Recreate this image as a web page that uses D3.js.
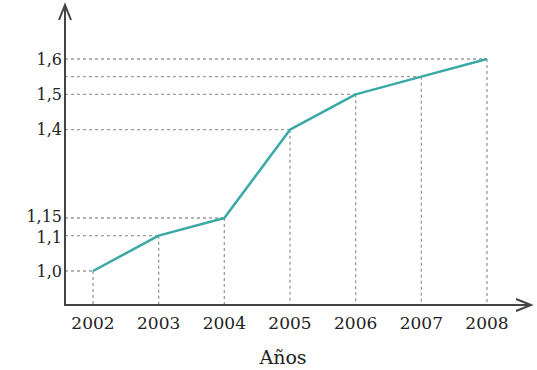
<!DOCTYPE html>
<html>
<head>
<meta charset="utf-8">
<script src="https://cdn.jsdelivr.net/npm/d3@7"></script>
<style>
  html, body { margin: 0; padding: 0; background: #fff; }
  svg { display: block; }
  text { font-family: "DejaVu Serif", "Liberation Serif", serif; fill: #222; }
</style>
</head>
<body>
<svg id="chart" width="537" height="370"></svg>
<script>
const years = [2002, 2003, 2004, 2005, 2006, 2007, 2008];
const values = [1.0, 1.1, 1.15, 1.4, 1.5, 1.55, 1.6];
const yTickValues = [1.0, 1.1, 1.15, 1.4, 1.5, 1.6];
const yTickLabels = ["1,0", "1,1", "1,15", "1,4", "1,5", "1,6"];
const xLabel = "Años";

const svg = d3.select("#chart");

const axisX = 65, axisY = 305;
const x = d3.scaleLinear().domain([2002, 2008]).range([93, 487]);
const y = d3.scaleLinear().domain([1.0, 1.6]).range([271, 59]);

const data = years.map((yr, i) => ({ yr, v: values[i] }));

// dashed guides
const guides = svg.append("g").attr("stroke", "#9a9a9a").attr("stroke-width", 1.3)
  .attr("stroke-dasharray", "3,3").attr("fill", "none");
data.forEach(d => {
  guides.append("line").attr("x1", axisX).attr("x2", x(d.yr))
    .attr("y1", y(d.v)).attr("y2", y(d.v));
  guides.append("line").attr("x1", x(d.yr)).attr("x2", x(d.yr))
    .attr("y1", y(d.v)).attr("y2", axisY);
});

// axes
const axisColor = "#444";
svg.append("line").attr("x1", axisX).attr("x2", axisX).attr("y1", axisY + 1).attr("y2", 6)
  .attr("stroke", axisColor).attr("stroke-width", 2);
svg.append("line").attr("x1", axisX - 1).attr("x2", 530).attr("y1", axisY).attr("y2", axisY)
  .attr("stroke", axisColor).attr("stroke-width", 2);
// arrowheads
svg.append("path").attr("d", `M${axisX - 6},${20} L${axisX},${5} L${axisX + 6},${20}`)
  .attr("fill", "none").attr("stroke", axisColor).attr("stroke-width", 2);
svg.append("path").attr("d", `M${516},${axisY - 6} L${531},${axisY} L${516},${axisY + 6}`)
  .attr("fill", "none").attr("stroke", axisColor).attr("stroke-width", 2);

// line
svg.append("path").datum(data)
  .attr("d", d3.line().x(d => x(d.yr)).y(d => y(d.v)))
  .attr("fill", "none").attr("stroke", "#3aa9a6").attr("stroke-width", 2.5)
  .attr("stroke-linejoin", "round");

// y tick labels (the two close labels are nudged apart slightly, as in the reference)
const nudge = v => (v === 1.1 ? 1.5 : v === 1.15 ? -1.5 : 0);
svg.append("g").selectAll("text").data(yTickValues).join("text")
  .attr("x", axisX - 3).attr("y", d => y(d) + nudge(d)).attr("dy", "0.35em")
  .attr("text-anchor", "end").attr("font-size", 16)
  .text((d, i) => yTickLabels[i]);

// x tick labels
svg.append("g").selectAll("text").data(years).join("text")
  .attr("x", d => x(d)).attr("y", 323).attr("dy", "0.35em")
  .attr("text-anchor", "middle").attr("font-size", 17)
  .text(d => d);

svg.append("text").attr("x", 283).attr("y", 357).attr("dy", "0.35em")
  .attr("text-anchor", "middle").attr("font-size", 19)
  .text(xLabel);
</script>
</body>
</html>
